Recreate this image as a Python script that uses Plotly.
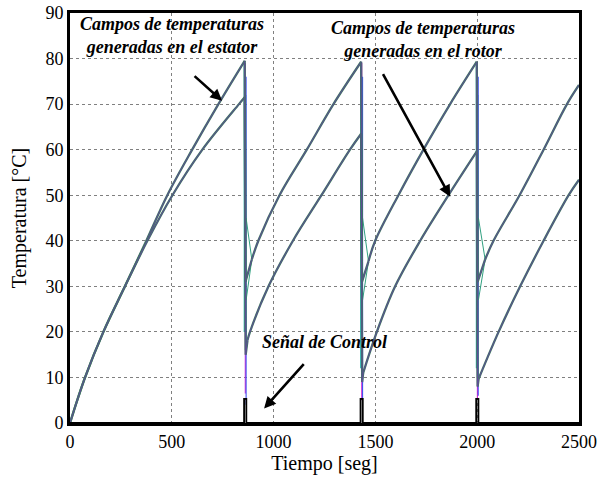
import plotly.graph_objects as go

# ---- data ----
# Stator temperature field (upper bundle): rising parts of each cycle
stator_rise_t = [0, 74, 164, 270, 375, 478, 600, 729, 858, None,
                 893, 925, 1029, 1163, 1294, 1430, None,
                 1466, 1499, 1613, 1736, 1867, 1998, None,
                 2039, 2080, 2208, 2326, 2441, 2500]
stator_rise_y = [0, 10, 20, 30, 40, 50, 60, 70, 79.5, None,
                 35.9, 40, 50, 60, 70, 79.3, None,
                 35.5, 40, 50, 60, 70, 79.3, None,
                 35.9, 40, 50, 60, 70, 74.2]
# Stator: fall at each switching instant
stator_drop_t = [858, 862, 893, None, 1430, 1434, 1466, None, 1998, 2002, 2039]
stator_drop_y = [79.5, 31, 35.9, None, 79.3, 31, 35.5, None, 79.3, 31, 35.9]

# Rotor temperature field (lower bundle)
rotor_rise_t = [0, 74, 164, 270, 380, 503, 650, 830, 858, None,
                872, 884, 975, 1095, 1235, 1375, 1430, None,
                1440, 1507, 1597, 1720, 1859, 1998, None,
                2007, 2105, 2211, 2326, 2449, 2500]
rotor_rise_y = [0, 10, 20, 30, 40, 50, 60, 70, 71.5, None,
                18.2, 20, 30, 40, 50, 60, 63.5, None,
                11, 20, 30, 40, 50, 59.6, None,
                9.7, 20, 30, 40, 50, 53.4]
rotor_drop_t = [858, 863, 872, None, 1430, 1435, 1440, None, 1998, 2002, 2007]
rotor_drop_y = [71.5, 15, 18.2, None, 63.5, 9, 11, None, 59.6, 8, 9.7]

# Transient spikes at the switching instants (colored noise)
spike_mag_t = [861, 861, None, 1433, 1433, None, 2001, 2001]
spike_mag_y = [79, 6.5, None, 79, 5, None, 79, 5.5]
spike_blue_t = [865, 865, None, 1437, 1437, None, 2005, 2005]
spike_blue_y = [76, 4, None, 76, 5.5, None, 76, 6]
spike_cyan_t = [857, 857, None, 1429, 1429, None, 1997, 1997]
spike_cyan_y = [79, 20, None, 79, 12, None, 79, 12]
spike_green_t = [862, 862, None, 1434, 1434, None, 2002, 2002]
spike_green_y = [72, 16, None, 72, 10, None, 72, 10]
fan_t = [865, 893, None, 865, 893, None, 1437, 1466, None, 1437, 1466, None,
         2006, 2039, None, 2006, 2039]
fan_y = [45, 35.9, None, 27, 35.9, None, 45, 35.5, None, 27, 35.5, None,
         45, 35.9, None, 27, 35.9]

# Control signal
ctrl_t = [0, 855, 855, 866, 866, 1427, 1427, 1438, 1438, 1995, 1995, 2006, 2006, 2500]
ctrl_y = [0, 0, 5.3, 5.3, 0, 0, 5.3, 5.3, 0, 0, 5.3, 5.3, 0, 0]

x_ticks = [0, 500, 1000, 1500, 2000, 2500]
y_ticks = [0, 10, 20, 30, 40, 50, 60, 70, 80, 90]

FONT = "Liberation Serif, Times New Roman, Times, serif"

fig = go.Figure()

def add_line(t, y, color, width, shape="linear", clip=True):
    fig.add_trace(go.Scatter(x=t, y=y, mode="lines", connectgaps=False,
                             line=dict(color=color, width=width, shape=shape),
                             cliponaxis=clip, hoverinfo="skip", showlegend=False))

# colored transients
add_line(spike_cyan_t, spike_cyan_y, "#20b8b0", 1.6)
add_line(spike_green_t, spike_green_y, "#28a050", 1.6)
add_line(spike_mag_t, spike_mag_y, "#d020d0", 1.1)
add_line(spike_blue_t, spike_blue_y, "#4050f0", 1.1)
add_line(fan_t, fan_y, "#30a080", 1)

# main bundles: a green base with a purple/blue overlay
for t, y, shp in [(stator_rise_t, stator_rise_y, "spline"), (rotor_rise_t, rotor_rise_y, "spline"),
                  (stator_drop_t, stator_drop_y, "linear"), (rotor_drop_t, rotor_drop_y, "linear")]:
    add_line(t, y, "#3f7462", 2.3, shp)
    add_line(t, y, "#62489c", 0.9, shp)

# control signal
add_line(ctrl_t, ctrl_y, "black", 1.8, clip=False)

ann_font = dict(family=FONT, size=18, color="black")

def px_to_data(px, py):
    return (px - 70) / 0.2035, (423.5 - py) / 4.56

for txt, (px, py) in [
    ("<b><i>Campos de temperaturas<br>generadas en el estator</i></b>", (172, 36)),
    ("<b><i>Campos de temperaturas<br>generadas en el rotor</i></b>", (423, 40)),
    ("<b><i>Señal de Control</i></b>", (324, 342)),
]:
    xd, yd = px_to_data(px, py)
    fig.add_annotation(x=xd, y=yd, xref="x", yref="y", showarrow=False, text=txt,
                       font=ann_font, align="center", xanchor="center", yanchor="middle")

# arrows: tip (px) and tail offset (px)
for (tx, ty), (ax, ay) in [((222, 101), (-29, -26)),
                           ((450, 197), (-68, -124)),
                           ((264, 409), (41, -46))]:
    xd, yd = px_to_data(tx, ty)
    fig.add_annotation(x=xd, y=yd, xref="x", yref="y", ax=ax, ay=ay, showarrow=True,
                       arrowhead=2, arrowsize=0.9, arrowwidth=2.6, arrowcolor="black",
                       standoff=0, text="")

axis_common = dict(showline=True, mirror=True, linewidth=3, linecolor="black",
                   showgrid=True, gridcolor="#808080", griddash="dot", gridwidth=1,
                   zeroline=False, ticks="", automargin=False,
                   tickfont=dict(family=FONT, size=18, color="black"))

fig.update_xaxes(range=[0, 2500], tickvals=x_ticks, ticktext=[str(v) for v in x_ticks],
                 title=dict(text="Tiempo [seg]", font=dict(family=FONT, size=20, color="black"),
                            standoff=4),
                 **axis_common)
fig.update_yaxes(range=[0, 90], tickvals=y_ticks, ticktext=[str(v) for v in y_ticks],
                 title=dict(text="Temperatura [°C]", font=dict(family=FONT, size=20, color="black"),
                            standoff=14),
                 **axis_common)

fig.update_layout(width=600, height=482, margin=dict(l=70, r=21, t=13, b=59),
                  paper_bgcolor="white", plot_bgcolor="white", showlegend=False)

fig.write_html("out.html")
